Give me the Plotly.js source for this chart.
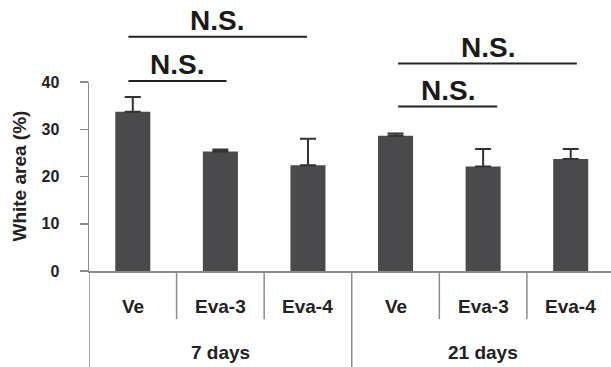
<!DOCTYPE html>
<html>
<head>
<meta charset="utf-8">
<script src="https://cdn.plot.ly/plotly-3.0.1.min.js"></script>
<style>html,body{margin:0;padding:0;background:#fff;}#chart{width:611px;height:367px;}</style>
</head>
<body>
<div id="chart"></div>
<script>
// Data
var categories = ["Ve", "Eva-3", "Eva-4", "Ve", "Eva-3", "Eva-4"];
var groups = ["7 days", "21 days"];
var values = [33.7, 25.3, 22.4, 28.6, 22.1, 23.7];
var errors = [3.1, 0.4, 5.6, 0.5, 3.7, 2.1];
var yTicks = [0, 10, 20, 30, 40];
// significance brackets: [x start, x end, y level (data units), label]
var bracketX0 = [-0.05, -0.05, 3.03, 3.03];
var bracketX1 = [1.07, 1.99, 4.16, 5.07];
var bracketY = [40.2, 49.6, 34.8, 43.9];
var bracketLabel = ["N.S.", "N.S.", "N.S.", "N.S."];
var bracketLabelX = [0.505, 0.965, 3.595, 4.05];

var YMAX = 40;
var FONT = "Liberation Sans, Arial, sans-serif";
var xIdx = categories.map(function(_, i){ return i; });

var trace = {
  type: "bar",
  x: xIdx,
  y: values,
  width: 0.4,
  marker: {color: "#4a4a4c", line: {width: 0}},
  error_y: {type: "data", symmetric: false, array: errors,
            arrayminus: errors.map(function(){return 0;}),
            color: "#333333", thickness: 2, width: 8},
  hoverinfo: "none"
};

var shapes = [];
var annotations = [];
var axisGray = "#8c8c8c";

// y axis extension down to bottom
shapes.push({type: "line", xref: "x", yref: "paper", x0: -0.5, x1: -0.5, y0: 0, y1: -0.52,
             line: {color: axisGray, width: 1.5}});
// dividers between categories
for (var i = 0; i < categories.length - 1; i++) {
  var isGroup = (i === 2);
  shapes.push({type: "line", xref: "x", yref: "paper", x0: i + 0.5, x1: i + 0.5, y0: 0,
               y1: isGroup ? -0.52 : -0.255, line: {color: axisGray, width: 1.5}});
}
// category labels
categories.forEach(function(c, i){
  annotations.push({text: c, xref: "x", yref: "paper", x: i, y: -0.19, showarrow: false,
                    xanchor: "center", yanchor: "middle",
                    font: {family: FONT, size: 19, color: "#222222", weight: "bold"}});
});
groups.forEach(function(g, j){
  annotations.push({text: g, xref: "x", yref: "paper", x: j * 3 + 1, y: -0.43, showarrow: false,
                    xanchor: "center", yanchor: "middle",
                    font: {family: FONT, size: 19, color: "#222222", weight: "bold"}});
});
// brackets
for (var k = 0; k < bracketY.length; k++) {
  shapes.push({type: "line", xref: "x", yref: "paper", x0: bracketX0[k], x1: bracketX1[k],
               y0: bracketY[k] / YMAX, y1: bracketY[k] / YMAX,
               line: {color: "#222222", width: 2}});
  annotations.push({text: bracketLabel[k], xref: "x", yref: "paper", x: bracketLabelX[k],
                    y: bracketY[k] / YMAX, showarrow: false, xanchor: "center", yanchor: "bottom",
                    yshift: -1,
                    font: {family: FONT, size: 28, color: "#1a1a1a", weight: "bold"}});
}
// y title
annotations.push({text: "White area (%)", xref: "paper", yref: "paper", x: -0.134, y: 0.5,
                  textangle: -90, showarrow: false, xanchor: "center", yanchor: "middle",
                  font: {family: FONT, size: 19, color: "#222222", weight: "bold"}});

var layout = {
  width: 611, height: 367,
  margin: {l: 89, r: 0, t: 82, b: 96, pad: 0},
  paper_bgcolor: "#ffffff", plot_bgcolor: "#ffffff",
  showlegend: false,
  xaxis: {range: [-0.5, 5.46], showticklabels: false, ticks: "", showgrid: false,
          zeroline: false, showline: true, linecolor: axisGray, linewidth: 1.5, fixedrange: true},
  yaxis: {range: [0, YMAX], tickvals: yTicks, ticktext: yTicks.map(String),
          ticks: "outside", ticklen: 8, tickwidth: 1.5, tickcolor: axisGray,
          showline: true, linecolor: axisGray, linewidth: 1.5, showgrid: false, zeroline: false,
          ticklabelstandoff: 17,
          tickfont: {family: FONT, size: 16, color: "#222222", weight: "bold"}, fixedrange: true},
  shapes: shapes,
  annotations: annotations
};

Plotly.newPlot("chart", [trace], layout, {staticPlot: true, displayModeBar: false});
</script>
</body>
</html>
